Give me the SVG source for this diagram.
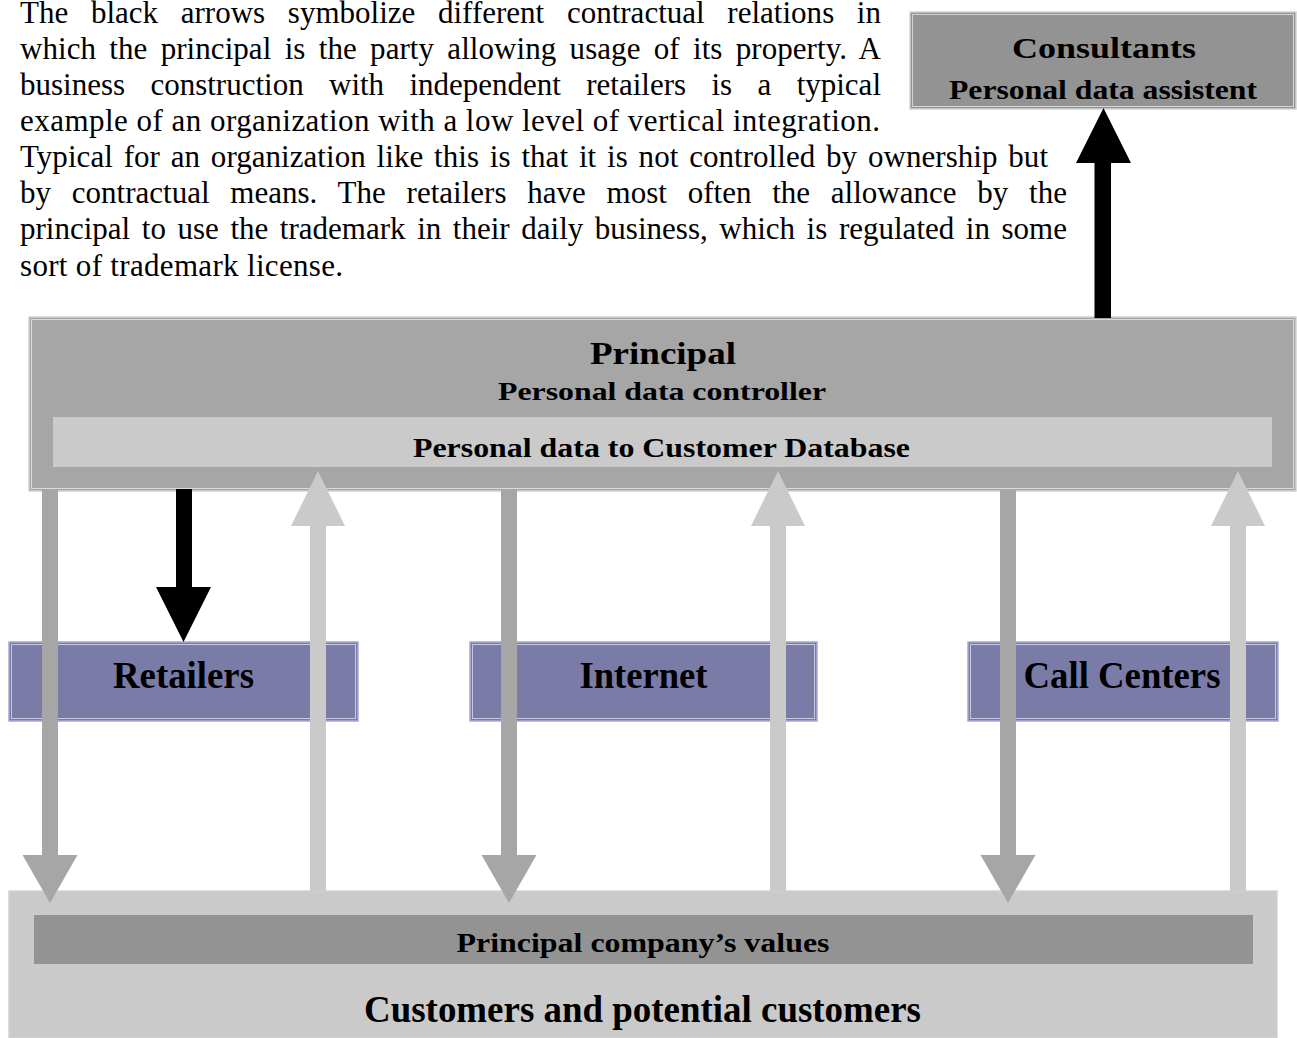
<svg xmlns="http://www.w3.org/2000/svg" width="1297" height="1038" viewBox="0 0 1297 1038">
<style>
.para{font-size:31px;fill:#000}
.lbl{font-weight:bold;fill:#000;text-anchor:middle}
.gbox{stroke:#d2d2d2;stroke-width:1.5}
.inner{fill:none;stroke:#ffffff;stroke-width:1;opacity:0.6}
.bbox{fill:#7b7ba8;stroke:#a9a9d0;stroke-width:1.5}
.binner{fill:none;stroke:#c8c8e6;stroke-width:1}
.dark{fill:#a6a6a6}
.light{fill:#cacaca}
.black{fill:#000}
</style>
<rect width="1297" height="1038" fill="#ffffff"/>

<g id="paragraph" font-family="Liberation Serif, Times New Roman, Times, serif">
<text class="para" x="20" y="23" word-spacing="14.9" textLength="861" lengthAdjust="spacing">The black arrows symbolize different contractual relations in</text>
<text class="para" x="20" y="58.5" word-spacing="5.5" textLength="861" lengthAdjust="spacing">which the principal is the party allowing usage of its property. A</text>
<text class="para" x="20" y="94.5" word-spacing="17.6" textLength="861" lengthAdjust="spacing">business construction with independent retailers is a typical</text>
<text class="para" x="20" y="130.5" textLength="860" lengthAdjust="spacing">example of an organization with a low level of vertical integration.</text>
<text class="para" x="20" y="166.6" word-spacing="3" textLength="1028" lengthAdjust="spacing">Typical for an organization like this is that it is not controlled by ownership but</text>
<text class="para" x="20" y="202.9" word-spacing="13" textLength="1047" lengthAdjust="spacing">by contractual means. The retailers have most often the allowance by the</text>
<text class="para" x="20" y="239.2" word-spacing="3.8" textLength="1047" lengthAdjust="spacing">principal to use the trademark in their daily business, which is regulated in some</text>
<text class="para" x="20" y="275.5" textLength="323" lengthAdjust="spacing">sort of trademark license.</text>
</g>

<g id="consultants" font-family="Liberation Serif, Times New Roman, Times, serif">
<rect class="gbox" x="910" y="12" width="386" height="97" fill="#939393"/>
<rect class="inner" x="912.5" y="14.5" width="381" height="92"/>
<text class="lbl" x="1104" y="58" font-size="30" textLength="184" lengthAdjust="spacingAndGlyphs">Consultants</text>
<text class="lbl" x="1103" y="99" font-size="27" textLength="308" lengthAdjust="spacingAndGlyphs">Personal data assistent</text>
</g>

<g id="principal" font-family="Liberation Serif, Times New Roman, Times, serif">
<rect class="gbox" x="29" y="317" width="1267" height="174" fill="#a6a6a6"/>
<rect class="inner" x="31.5" y="319.5" width="1262" height="169"/>
<text class="lbl" x="663" y="364" font-size="31" textLength="146" lengthAdjust="spacingAndGlyphs">Principal</text>
<text class="lbl" x="662" y="400" font-size="26" textLength="328" lengthAdjust="spacingAndGlyphs">Personal data controller</text>
</g>

<g id="database" font-family="Liberation Serif, Times New Roman, Times, serif">
<rect x="53" y="417" width="1219" height="50" fill="#cacaca"/>
<text class="lbl" x="661.5" y="456.5" font-size="27.5" textLength="497" lengthAdjust="spacingAndGlyphs">Personal data to Customer Database</text>
</g>

<g id="customers" font-family="Liberation Serif, Times New Roman, Times, serif">
<rect class="gbox" x="9" y="891" width="1268" height="147" fill="#cacaca"/>
<text class="lbl" x="642.5" y="1021.5" font-size="37" textLength="557" lengthAdjust="spacingAndGlyphs">Customers and potential customers</text>
</g>

<g id="values" font-family="Liberation Serif, Times New Roman, Times, serif">
<rect x="34" y="915" width="1219" height="49" fill="#939393"/>
<text class="lbl" x="643" y="951.5" font-size="27.5" textLength="373" lengthAdjust="spacingAndGlyphs">Principal company’s values</text>
</g>

<g id="retailers" font-family="Liberation Serif, Times New Roman, Times, serif">
<rect class="bbox" x="9" y="642" width="349" height="79"/>
<rect class="binner" x="11.5" y="644.5" width="344" height="74"/>
<text class="lbl" x="183.5" y="688" font-size="37" textLength="141" lengthAdjust="spacingAndGlyphs">Retailers</text>
</g>

<g id="internet" font-family="Liberation Serif, Times New Roman, Times, serif">
<rect class="bbox" x="470" y="642" width="347" height="79"/>
<rect class="binner" x="472.5" y="644.5" width="342" height="74"/>
<text class="lbl" x="643.5" y="688" font-size="37" textLength="128" lengthAdjust="spacingAndGlyphs">Internet</text>
</g>

<g id="callcenters" font-family="Liberation Serif, Times New Roman, Times, serif">
<rect class="bbox" x="968" y="642" width="310" height="79"/>
<rect class="binner" x="970.5" y="644.5" width="305" height="74"/>
<text class="lbl" x="1122" y="688" font-size="37" textLength="197" lengthAdjust="spacingAndGlyphs">Call Centers</text>
</g>

<g id="connectors">
<polygon class="black" points="1094.5,318 1094.5,163 1076,163 1103.5,108 1131,163 1111,163 1111,318"/>
<polygon class="black" points="176,489 192,489 192,587 211,587 183.5,642 156,587 176,587"/>
<polygon class="dark" points="42,490 58,490 58,855 77.5,855 50,903 22.5,855 42,855"/>
<polygon class="dark" points="501,490 517,490 517,855 536.5,855 509,903 481.5,855 501,855"/>
<polygon class="dark" points="1000,490 1016,490 1016,855 1035.5,855 1008,903 980.5,855 1000,855"/>
<polygon class="light" points="310,891 310,526 291,526 318,471 345,526 326,526 326,891"/>
<polygon class="light" points="770,891 770,526 751,526 778,471 805,526 786,526 786,891"/>
<polygon class="light" points="1230,891 1230,526 1211,526 1238,471 1265,526 1246,526 1246,891"/>
</g>
</svg>
